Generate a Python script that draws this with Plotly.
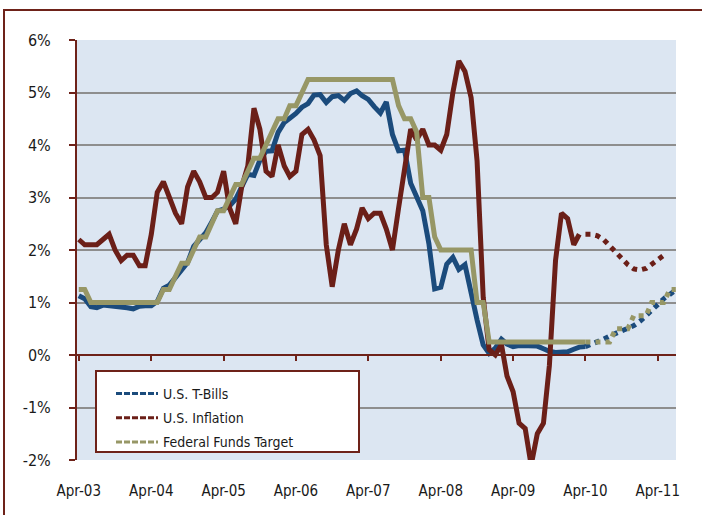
import pandas as pd
import plotly.graph_objects as go

# ---------------- data (monthly, starting Apr-2003) ----------------
start_month = "2003-04-01"
proj_start_month = "2010-04-01"

tbills = [1.13, 1.07, 0.92, 0.90, 0.95, 0.94, 0.92, 0.93, 0.90,
          0.88, 0.93, 0.94, 0.94, 1.02, 1.27, 1.33, 1.48, 1.65, 1.76, 2.07, 2.19,
          2.33, 2.54, 2.74, 2.78, 2.84, 2.97, 3.22, 3.44, 3.42, 3.71, 3.88, 3.89,
          4.24, 4.43, 4.51, 4.60, 4.72, 4.79, 4.95, 4.96, 4.81, 4.92, 4.94, 4.85,
          4.98, 5.03, 4.94, 4.87, 4.73, 4.61, 4.82, 4.20, 3.89, 3.90, 3.27, 3.00,
          2.75, 2.12, 1.26, 1.29, 1.73, 1.86, 1.63, 1.72, 1.13, 0.67, 0.19, 0.03,
          0.13, 0.30, 0.21, 0.16, 0.18, 0.18, 0.18, 0.17, 0.12, 0.07, 0.05, 0.05,
          0.06, 0.11, 0.15, 0.16]

inflation = [2.2, 2.1, 2.1, 2.1, 2.2, 2.3, 2.0, 1.8, 1.9,
             1.9, 1.7, 1.7, 2.3, 3.1, 3.3, 3.0, 2.7, 2.5, 3.2, 3.5, 3.3,
             3.0, 3.0, 3.1, 3.5, 2.8, 2.5, 3.2, 3.6, 4.7, 4.3, 3.5, 3.4,
             4.0, 3.6, 3.4, 3.5, 4.2, 4.3, 4.1, 3.8, 2.1, 1.3, 2.0, 2.5,
             2.1, 2.4, 2.8, 2.6, 2.7, 2.7, 2.4, 2.0, 2.8, 3.5, 4.3, 4.1,
             4.3, 4.0, 4.0, 3.9, 4.2, 5.0, 5.6, 5.4, 4.9, 3.7, 1.1, 0.1,
             0.0, 0.2, -0.4, -0.7, -1.3, -1.4, -2.1, -1.5, -1.3, -0.2, 1.8, 2.7,
             2.6, 2.1, 2.3]

fed_target = [1.25, 1.25, 1.00, 1.00, 1.00, 1.00, 1.00, 1.00, 1.00,
              1.00, 1.00, 1.00, 1.00, 1.00, 1.25, 1.25, 1.50, 1.75, 1.75, 2.00, 2.25,
              2.25, 2.50, 2.75, 2.75, 3.00, 3.25, 3.25, 3.50, 3.75, 3.75, 4.00, 4.25,
              4.50, 4.50, 4.75, 4.75, 5.00, 5.25, 5.25, 5.25, 5.25, 5.25, 5.25, 5.25,
              5.25, 5.25, 5.25, 5.25, 5.25, 5.25, 5.25, 5.25, 4.75, 4.50, 4.50, 4.25,
              3.00, 3.00, 2.25, 2.00, 2.00, 2.00, 2.00, 2.00, 2.00, 1.00, 1.00, 0.25,
              0.25, 0.25, 0.25, 0.25, 0.25, 0.25, 0.25, 0.25, 0.25, 0.25, 0.25, 0.25,
              0.25, 0.25, 0.25, 0.25]

# projections (dotted), monthly from Apr-2010
tbills_proj = [0.16, 0.20, 0.24, 0.30, 0.36, 0.41, 0.46, 0.50, 0.56, 0.64,
               0.74, 0.86, 0.96, 1.07, 1.16, 1.24]
inflation_proj = [2.30, 2.30, 2.27, 2.20, 2.08, 1.95, 1.82, 1.72, 1.64, 1.62,
                  1.65, 1.72, 1.80, 1.90]
fed_proj = [0.25, 0.25, 0.25, 0.25, 0.25, 0.50, 0.50, 0.50, 0.75, 0.75,
            0.75, 1.00, 1.00, 1.00, 1.25, 1.25]

series_names = ["U.S. T-Bills", "U.S. Inflation", "Federal Funds Target"]

tick_dates = ["2003-04-01", "2004-04-01", "2005-04-01", "2006-04-01", "2007-04-01",
              "2008-04-01", "2009-04-01", "2010-04-01", "2011-04-01"]
tick_labels = ["Apr-03", "Apr-04", "Apr-05", "Apr-06", "Apr-07",
               "Apr-08", "Apr-09", "Apr-10", "Apr-11"]
y_ticks = [-2, -1, 0, 1, 2, 3, 4, 5, 6]
y_labels = ["-2%", "-1%", "0%", "1%", "2%", "3%", "4%", "5%", "6%"]

# ---------------- styling ----------------
BLUE = "#1B4B7C"
RED = "#6B1F18"
OLIVE = "#979766"
BORDER = "#6E2219"
BG = "#DCE6F2"
GRID = "#8E8E8E"
TXT = "#1a1a1a"
FONT = "DejaVu Sans Condensed, Liberation Sans Narrow, DejaVu Sans, sans-serif"


def months(start, n):
    return pd.date_range(start, periods=n, freq="MS")


fig = go.Figure()

solid = [(tbills, BLUE), (inflation, RED), (fed_target, OLIVE)]
for ys, col in solid:
    fig.add_trace(go.Scatter(x=months(start_month, len(ys)), y=ys, mode="lines",
                             line=dict(color=col, width=5), showlegend=False,
                             hoverinfo="skip"))

proj = [(tbills_proj, BLUE), (inflation_proj, RED), (fed_proj, OLIVE)]
for ys, col in proj:
    fig.add_trace(go.Scatter(x=months(proj_start_month, len(ys)), y=ys, mode="lines",
                             line=dict(color=col, width=5, dash="5px,5px"),
                             showlegend=False, hoverinfo="skip"))

# legend entries (styled like the original legend samples)
for i, (name, col) in enumerate(zip(series_names, [BLUE, RED, OLIVE])):
    fig.add_trace(go.Scatter(x=[None], y=[None], mode="lines", name=name,
                             xaxis="x2", legendgroup=f"g{i}",
                             line=dict(color=col, width=3, dash="6px,2px")))

x_range = ["2003-03-23", "2011-07-02"]

L, R, T, B = 77, 26, 40, 55
W, H = 702, 515
pw, ph = W - L - R, H - T - B


def px_x(x):
    return (x - L) / pw


def px_y(y):
    return (H - B - y) / ph


fig.update_layout(
    width=W, height=H,
    margin=dict(l=L, r=R, t=T, b=B),
    paper_bgcolor="white",
    plot_bgcolor=BG,
    font=dict(family=FONT, color=TXT),
    xaxis=dict(type="date", range=x_range, tickvals=tick_dates, ticktext=tick_labels,
               showgrid=False, showline=False, ticks="", zeroline=False,
               tickfont=dict(size=15, family=FONT, color=TXT),
               ticklabelstandoff=20),
    xaxis2=dict(type="date", range=x_range, overlaying="x", anchor="free",
                position=0.25, side="bottom", showline=True, linecolor=BORDER,
                linewidth=2, ticks="outside", ticklen=5, tickwidth=2,
                tickcolor=BORDER, tickvals=tick_dates, showticklabels=False,
                showgrid=False, zeroline=False),
    yaxis=dict(range=[-2, 6], tickvals=y_ticks, ticktext=y_labels,
               showgrid=True, gridcolor=GRID, gridwidth=2,
               showline=True, linecolor=BORDER, linewidth=2,
               ticks="outside", ticklen=6, tickwidth=2, tickcolor=BORDER,
               zeroline=False, tickfont=dict(size=16, family=FONT, color=TXT),
               ticklabelstandoff=15),
    legend=dict(x=px_x(111), y=px_y(378), xanchor="left", yanchor="top",
                bgcolor="rgba(0,0,0,0)", borderwidth=0, itemwidth=42,
                tracegroupgap=3, traceorder="grouped",
                font=dict(size=14, family=FONT, color=TXT)),
    shapes=[
        dict(type="rect", xref="paper", yref="paper",
             x0=px_x(96), x1=px_x(359), y0=px_y(452), y1=px_y(371),
             fillcolor="white", line=dict(color=BORDER, width=2), layer="above"),
        dict(type="rect", xref="paper", yref="paper",
             x0=px_x(4), x1=px_x(760), y0=px_y(560), y1=px_y(10),
             fillcolor="rgba(0,0,0,0)", line=dict(color=BORDER, width=2), layer="above"),
    ],
)

fig.write_html("out.html", config={"displayModeBar": False},
               post_script="document.body.style.margin='0px';")
